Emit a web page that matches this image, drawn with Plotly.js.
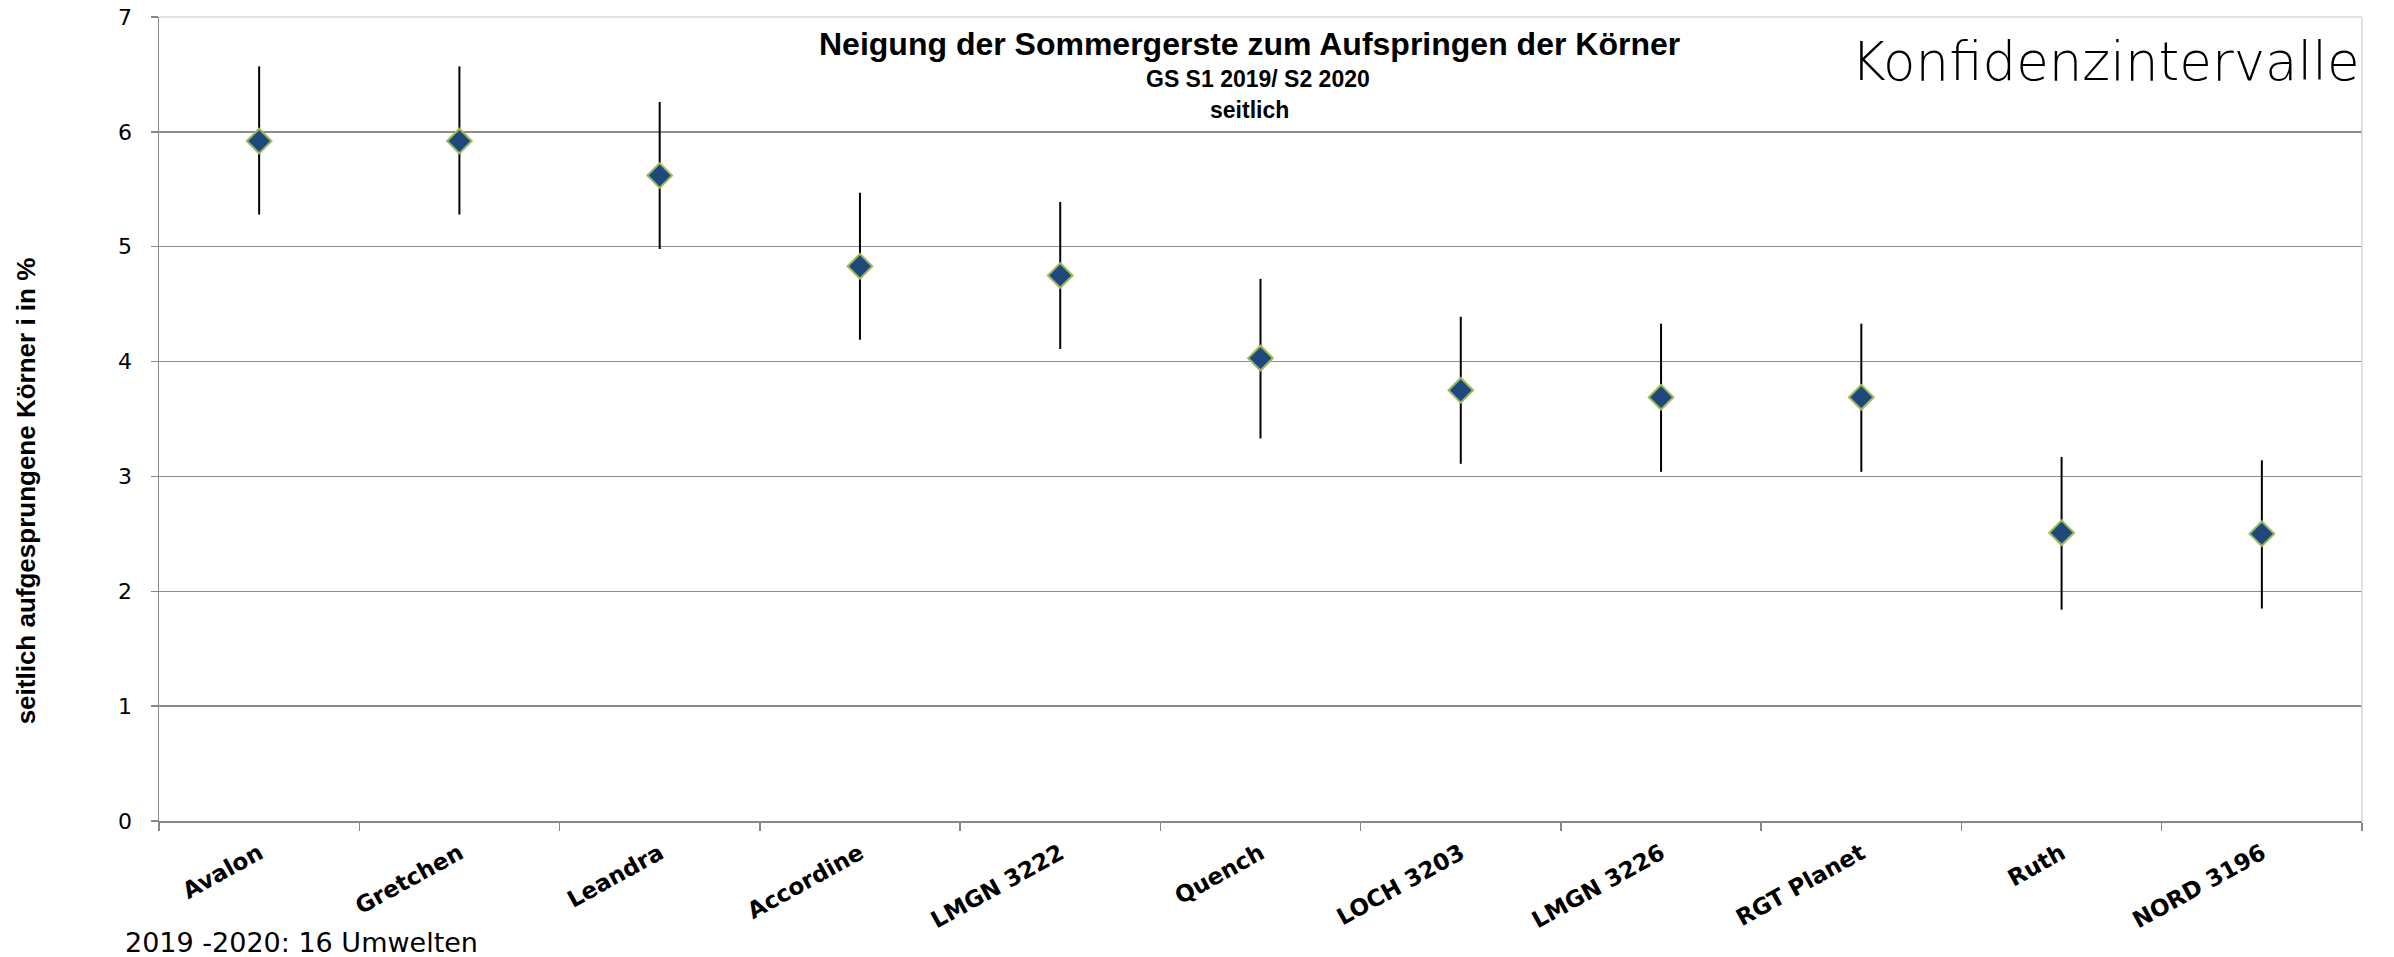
<!DOCTYPE html>
<html>
<head>
<meta charset="utf-8">
<script src="https://cdn.plot.ly/plotly-3.0.1.min.js"></script>
<style>
  html, body { margin: 0; padding: 0; background: #ffffff; }
  #chart { width: 2394px; height: 957px; }
</style>
</head>
<body>
<div id="chart"></div>
<script>
// ---- data ----
const categories = ['Avalon', 'Gretchen', 'Leandra', 'Accordine', 'LMGN 3222', 'Quench',
                    'LOCH 3203', 'LMGN 3226', 'RGT Planet', 'Ruth', 'NORD 3196'];
const means = [5.92, 5.92, 5.62, 4.83, 4.75, 4.03, 3.75, 3.69, 3.69, 2.51, 2.50];
const upper = [6.57, 6.57, 6.26, 5.47, 5.39, 4.72, 4.39, 4.33, 4.33, 3.17, 3.14];
const lower = [5.28, 5.28, 4.98, 4.19, 4.11, 3.33, 3.11, 3.04, 3.04, 1.84, 1.85];
const yTickVals = [0, 1, 2, 3, 4, 5, 6, 7];

const titleMain = 'Neigung der Sommergerste zum Aufspringen der Körner';
const titleSub1 = 'GS S1 2019/ S2 2020';
const titleSub2 = 'seitlich';
const cornerText = 'Konfidenzintervalle';
const yTitle = 'seitlich aufgesprungene Körner i in %';
const footText = '2019 -2020: 16 Umwelten';

const errPlus = means.map((m, i) => upper[i] - m);
const errMinus = means.map((m, i) => m - lower[i]);

const trace = {
  type: 'scatter',
  mode: 'markers',
  x: categories,
  y: means,
  marker: {
    symbol: 'diamond',
    size: 19,
    color: '#1F497D',
    line: { color: '#9BBB59', width: 2 }
  },
  error_y: {
    type: 'data',
    symmetric: false,
    array: errPlus,
    arrayminus: errMinus,
    color: '#000000',
    thickness: 2,
    width: 0
  },
  hoverinfo: 'x+y',
  showlegend: false
};

const gridGray = '#8C8C8C';
const axisGray = '#868686';
const lightGray = '#D9D9D9';

const layout = {
  width: 2394,
  height: 957,
  margin: { l: 159, r: 32, t: 17, b: 136 },
  paper_bgcolor: '#ffffff',
  plot_bgcolor: '#ffffff',
  showlegend: false,
  xaxis: {
    type: 'category',
    range: [-0.5, categories.length - 0.5],
    showgrid: false,
    showline: true,
    linecolor: axisGray,
    linewidth: 2,
    ticks: 'outside',
    tickson: 'boundaries',
    ticklen: 8,
    tickwidth: 1.5,
    tickcolor: axisGray,
    tickangle: -29,
    ticklabelstandoff: 8,
    tickfont: { family: 'DejaVu Sans', size: 23, color: '#000000', weight: 'bold' },
    zeroline: false,
    fixedrange: true
  },
  yaxis: {
    range: [0, 7],
    tickvals: yTickVals,
    ticktext: yTickVals.map(String),
    showgrid: true,
    gridcolor: gridGray,
    gridwidth: 1.3,
    showline: true,
    linecolor: axisGray,
    linewidth: 1.5,
    ticks: 'outside',
    ticklen: 7,
    tickwidth: 1.5,
    tickcolor: axisGray,
    ticklabelstandoff: 14,
    tickfont: { family: 'DejaVu Sans', size: 22, color: '#000000' },
    zeroline: false,
    fixedrange: true
  },
  shapes: [
    { type: 'line', xref: 'paper', yref: 'paper', x0: 0, x1: 1, y0: 1, y1: 1,
      line: { color: lightGray, width: 1.5 }, layer: 'above' },
    { type: 'line', xref: 'paper', yref: 'paper', x0: 1, x1: 1, y0: 0, y1: 1,
      line: { color: lightGray, width: 1.5 }, layer: 'above' }
  ],
  annotations: [
    { text: '<b>' + titleMain + '</b>', xref: 'paper', yref: 'paper', x: 0.495, y: 0.967,
      xanchor: 'center', yanchor: 'middle', showarrow: false,
      font: { family: 'Liberation Sans, Arial, sans-serif', size: 32, color: '#000000' } },
    { text: '<b>' + titleSub1 + '</b>', xref: 'paper', yref: 'paper', x: 0.499, y: 0.9225,
      xanchor: 'center', yanchor: 'middle', showarrow: false,
      font: { family: 'Liberation Sans, Arial, sans-serif', size: 23, color: '#000000' } },
    { text: '<b>' + titleSub2 + '</b>', xref: 'paper', yref: 'paper', x: 0.495, y: 0.884,
      xanchor: 'center', yanchor: 'middle', showarrow: false,
      font: { family: 'Liberation Sans, Arial, sans-serif', size: 23, color: '#000000' } },
    { text: cornerText, xref: 'paper', yref: 'paper', x: 1, y: 0.945,
      xanchor: 'right', yanchor: 'middle', showarrow: false,
      font: { family: 'DejaVu Sans', size: 53, color: '#000000', weight: 300 } },
    { text: '<b>' + yTitle + '</b>', xref: 'paper', yref: 'paper', x: 0, y: 0.41,
      xshift: -133, xanchor: 'center', yanchor: 'middle', textangle: -90, showarrow: false,
      font: { family: 'Liberation Sans, Arial, sans-serif', size: 26, color: '#000000' } },
    { text: footText, xref: 'paper', yref: 'paper', x: 0, y: -0.1505,
      xshift: -36, xanchor: 'left', yanchor: 'middle', showarrow: false,
      font: { family: 'DejaVu Sans', size: 27, color: '#000000' } }
  ]
};

Plotly.newPlot('chart', [trace], layout, { displayModeBar: false, staticPlot: true });
</script>
</body>
</html>
